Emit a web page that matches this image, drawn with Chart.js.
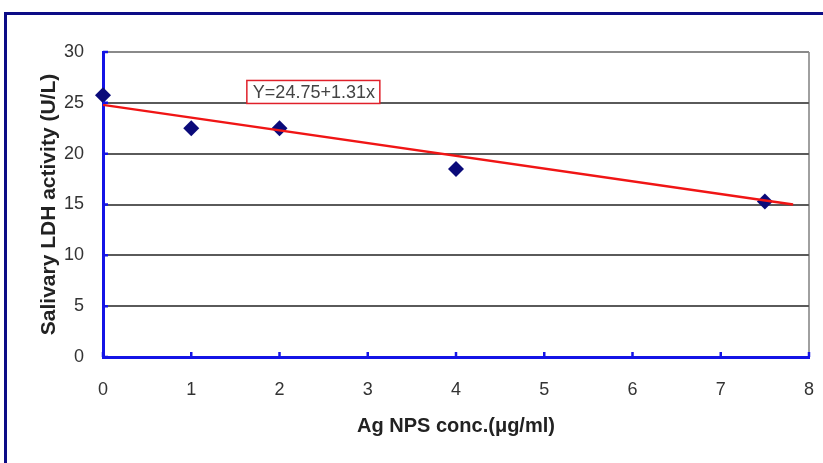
<!DOCTYPE html>
<html lang="en">
	<head>
		<meta charset="UTF-8" />
		<title>Salivary LDH activity</title>
		<script src="https://cdn.jsdelivr.net/npm/chart.js@4.4.1/dist/chart.umd.min.js"></script>
		<style>
			html, body { margin: 0; padding: 0; background: #fff; overflow: hidden; }
			#frame {
				position: absolute; left: 4px; top: 12px; width: 900px; height: 520px;
				border-left: 3px solid #0c0c86; border-top: 3px solid #0c0c86;
			}
			#wrap { position: absolute; left: 0; top: 0; width: 823px; height: 463px; }
		</style>
	</head>
	<body>
		<div id="frame"></div>
		<div id="wrap"><canvas id="ldhChart"></canvas></div>
		<script>
			// measured points
			const concentrations = [0, 1, 2, 4, 7.5];
			const ldhActivity = [25.75, 22.5, 22.5, 18.5, 15.3];

			// trend line as drawn in the figure
			const trendX = [0, 7.82];
			const trendY = [24.8, 15.0];
			const trendLabel = "Y=24.75+1.31x";

			const xTicks = [0, 1, 2, 3, 4, 5, 6, 7, 8];
			const yTicks = [0, 5, 10, 15, 20, 25, 30];

			const axisBlue = "#1414e6";
			const fontFamily = "'Liberation Sans', Arial, sans-serif";

			// inward tick marks and the equation box
			const extras = {
				id: "extras",
				afterDatasetsDraw(chart) {
					const { ctx, scales } = chart;
					const xs = scales.x, ys = scales.y;
					ctx.save();
					ctx.strokeStyle = axisBlue;
					ctx.lineWidth = 2.5;
					ctx.beginPath();
					for (const t of xTicks) {
						const px = xs.getPixelForValue(t);
						ctx.moveTo(px, ys.bottom);
						ctx.lineTo(px, ys.bottom - 5);
					}
					for (const t of yTicks) {
						const py = ys.getPixelForValue(t);
						ctx.moveTo(xs.left, py);
						ctx.lineTo(xs.left + 5, py);
					}
					ctx.stroke();

					// equation label
					const bx = xs.getPixelForValue(1.63);
					const by = ys.getPixelForValue(27.2);
					const w = 133, h = 23;
					ctx.fillStyle = "#fff";
					ctx.fillRect(bx, by, w, h);
					ctx.strokeStyle = "#e0202a";
					ctx.lineWidth = 1.5;
					ctx.strokeRect(bx, by, w, h);
					ctx.font = "18px " + fontFamily;
					ctx.fillStyle = "#444";
					ctx.textBaseline = "middle";
					ctx.fillText(trendLabel, bx + 6, by + h / 2 + 1);
					ctx.restore();
				},
			};

			new Chart(document.getElementById("ldhChart"), {
				type: "scatter",
				data: {
					datasets: [
						{
							type: "line",
							label: "Trend",
							data: trendX.map((x, i) => ({ x: x, y: trendY[i] })),
							borderColor: "#f01515",
							borderWidth: 2.5,
							pointRadius: 0,
							fill: false,
							clip: false,
						},
						{
							label: "LDH",
							data: concentrations.map((x, i) => ({ x: x, y: ldhActivity[i] })),
							pointStyle: "rectRot",
							pointRadius: 8,
							pointHoverRadius: 8,
							backgroundColor: "#0a0a7a",
							borderColor: "#0a0a7a",
							borderWidth: 0,
							clip: false,
						},
					],
				},
				options: {
					responsive: true,
					maintainAspectRatio: false,
					animation: false,
					events: [],
					layout: { padding: { left: 0, top: 52, right: 14, bottom: 0 } },
					plugins: {
						legend: { display: false },
						tooltip: { enabled: false },
					},
					scales: {
						x: {
							type: "linear",
							min: 0,
							max: 8,
							afterBuildTicks: (s) => { s.ticks = xTicks.map((v) => ({ value: v })); },
							afterFit: (s) => { s.height = 106; s.paddingLeft = 0; s.paddingRight = 0; },
							border: { color: axisBlue, width: 3 },
							grid: {
								drawTicks: false,
								lineWidth: 2,
								color: (c) => (c.tick && c.tick.value === 8 ? "#a0a0a0" : "rgba(0,0,0,0)"),
							},
							ticks: { padding: 22, color: "#333", font: { family: fontFamily, size: 18 } },
							title: {
								display: true,
								text: "Ag NPS conc.(μg/ml)",
								color: "#222",
								font: { family: fontFamily, size: 20, weight: "bold" },
								padding: { bottom: 25 },
							},
						},
						y: {
							type: "linear",
							min: 0,
							max: 30,
							afterBuildTicks: (s) => { s.ticks = yTicks.map((v) => ({ value: v })); },
							afterFit: (s) => { s.width = 103; s.paddingTop = 0; s.paddingBottom = 0; },
							border: { color: axisBlue, width: 3 },
							grid: {
								drawTicks: false,
								lineWidth: 2,
								color: (c) => (c.tick && c.tick.value === 30 ? "#8a8a8a" : "#5a5a5a"),
							},
							ticks: { padding: 19, color: "#333", font: { family: fontFamily, size: 18 } },
							title: {
								display: true,
								text: "Salivary LDH activity (U/L)",
								color: "#222",
								font: { family: fontFamily, size: 21, weight: "bold" },
								padding: { top: 37 },
							},
						},
					},
				},
				plugins: [extras],
			});
		</script>
	</body>
</html>
